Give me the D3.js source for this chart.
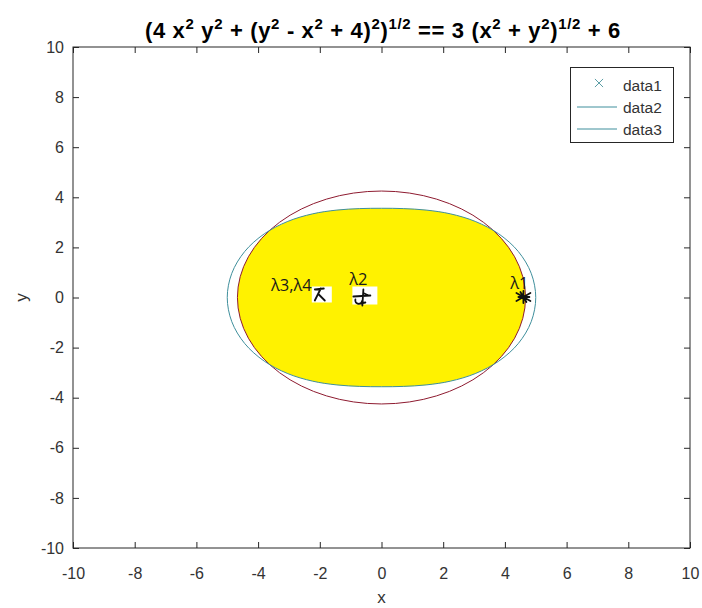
<!DOCTYPE html>
<html>
<head>
<meta charset="utf-8">
<script src="https://cdn.jsdelivr.net/npm/d3@7"></script>
<style>
  html, body { margin: 0; padding: 0; background: #ffffff; }
  svg { display: block; font-family: "Liberation Sans", Arial, sans-serif; }
</style>
</head>
<body>
<svg id="chart" width="702" height="608"></svg>
<script>
// Axis ranges and tick values
const xTicks = [-10, -8, -6, -4, -2, 0, 2, 4, 6, 8, 10];
const yTicks = [-10, -8, -6, -4, -2, 0, 2, 4, 6, 8, 10];

// Implicit curve |z^2 - 4| = 3|z| + 6, traced counter-clockwise
const curveX = [5.000, 4.853, 4.434, 3.801, 3.038, 2.232, 1.446, 0.706, 0.000,
                -0.706, -1.446, -2.232, -3.038, -3.801, -4.434, -4.853, -5.000,
                -4.853, -4.434, -3.801, -3.038, -2.232, -1.446, -0.706, 0.000,
                0.706, 1.446, 2.232, 3.038, 3.801, 4.434, 4.853];
const curveY = [0.000, 0.965, 1.837, 2.540, 3.038, 3.340, 3.490, 3.549, 3.562,
                3.549, 3.490, 3.340, 3.038, 2.540, 1.837, 0.965, 0.000,
                -0.965, -1.837, -2.540, -3.038, -3.340, -3.490, -3.549, -3.562,
                -3.549, -3.490, -3.340, -3.038, -2.540, -1.837, -0.965];

// Bounding ellipse: centre and semi-axes
const ellipseCenter = [0, 0];
const ellipseRadii = [4.67, 4.25];

// Eigenvalue markers
const eigLabels = ["λ1", "λ2", "λ3,λ4"];
const eigX = [4.60, -0.62, -2.00];
const eigY = [0.02, -0.04, 0.12];

const legendLabels = ["data1", "data2", "data3"];

const svg = d3.select("#chart");
const margin = { left: 73, right: 12, top: 47, bottom: 60 };
const W = 702, H = 608;
const x = d3.scaleLinear().domain([-10, 10]).range([margin.left, W - margin.right]);
const y = d3.scaleLinear().domain([-10, 10]).range([H - margin.bottom, margin.top]);

const tealLine = "#3f8f9c";
const redLine = "#8e1b30";
const axisColor = "#262626";
const fmt = d => String(d);

// Region inside both curves
const pts = curveX.map((v, i) => [v, curveY[i]]);
const line = d3.line().x(d => x(d[0])).y(d => y(d[1])).curve(d3.curveCatmullRomClosed);

const defs = svg.append("defs");
defs.append("clipPath").attr("id", "ellClip")
  .append("ellipse")
  .attr("cx", x(ellipseCenter[0])).attr("cy", y(ellipseCenter[1]))
  .attr("rx", x(ellipseRadii[0]) - x(0)).attr("ry", y(0) - y(ellipseRadii[1]));

svg.append("path")
  .attr("d", line(pts))
  .attr("fill", "#fff200")
  .attr("clip-path", "url(#ellClip)");

// Red ellipse
svg.append("ellipse")
  .attr("cx", x(ellipseCenter[0])).attr("cy", y(ellipseCenter[1]))
  .attr("rx", x(ellipseRadii[0]) - x(0)).attr("ry", y(0) - y(ellipseRadii[1]))
  .attr("fill", "none").attr("stroke", redLine).attr("stroke-width", 1);

// Teal implicit curve
svg.append("path")
  .attr("d", line(pts))
  .attr("fill", "none").attr("stroke", tealLine).attr("stroke-width", 1);

// White patches behind the inner eigenvalue marks: [w, h, dx, dy]
const patch = [null, [25, 18, 2.5, -3], [20, 16, 2, 0]];
eigX.forEach((ex, i) => {
  const p = patch[i];
  if (!p) return;
  const cx = x(ex) + p[2], cy = y(eigY[i]) + p[3];
  svg.append("rect")
    .attr("x", cx - p[0] / 2).attr("y", cy - p[1] / 2)
    .attr("width", p[0]).attr("height", p[1])
    .attr("fill", "#ffffff");
});

// Hand-drawn style glyphs for the eigenvalue marks
const glyphs = [
  "M-7,-4 L7,4 M-7,4 L7,-4 M0,-6 L0,6 M-5,0 L6,0 M-3,-5 L3,5",
  "M1,-9 L0,7 M-9,-2 L8,-3 M-7,1 C-8,6 -1,7 0,2 M-2,5 L3,4 M2,-5 L6,-3",
  "M-5,-5 L4,-6 M1,-6 L-5,6 M-1,0 L5,6"
];
eigX.forEach((ex, i) => {
  svg.append("path")
    .attr("transform", `translate(${x(ex)},${y(eigY[i])})`)
    .attr("d", glyphs[i])
    .attr("fill", "none").attr("stroke", "#111").attr("stroke-width", 1.8)
    .attr("stroke-linecap", "round");
});

// Labels: anchor point offsets from each mark
const labelPos = [
  { dx: -4, dy: -8, anchor: "middle" },
  { dx: -4, dy: -14, anchor: "middle" },
  { dx: -8, dy: -3, anchor: "end" }
];
eigLabels.forEach((t, i) => {
  svg.append("text")
    .attr("x", x(eigX[i]) + labelPos[i].dx)
    .attr("y", y(eigY[i]) + labelPos[i].dy)
    .attr("text-anchor", labelPos[i].anchor)
    .attr("font-family", "'Open Sans', 'DejaVu Sans', sans-serif")
    .attr("font-size", 16.5)
    .attr("fill", "#1a1a1a")
    .text(t);
});

// Frame
svg.append("rect")
  .attr("x", x(-10)).attr("y", y(10))
  .attr("width", x(10) - x(-10)).attr("height", y(-10) - y(10))
  .attr("fill", "none").attr("stroke", axisColor).attr("stroke-width", 1);

// Axes with inward ticks on all four sides
const tickLen = 6;
const gx = svg.append("g").attr("transform", `translate(0,${y(-10)})`)
  .call(d3.axisBottom(x).tickValues(xTicks).tickSize(-tickLen).tickPadding(20).tickFormat(fmt));
const gy = svg.append("g").attr("transform", `translate(${x(-10)},0)`)
  .call(d3.axisLeft(y).tickValues(yTicks).tickSize(-tickLen).tickPadding(9).tickFormat(fmt));
const gxt = svg.append("g").attr("transform", `translate(0,${y(10)})`)
  .call(d3.axisTop(x).tickValues(xTicks).tickSize(-tickLen).tickFormat(""));
const gyr = svg.append("g").attr("transform", `translate(${x(10)},0)`)
  .call(d3.axisRight(y).tickValues(yTicks).tickSize(-tickLen).tickFormat(""));
[gx, gy, gxt, gyr].forEach(g => {
  g.select(".domain").remove();
  g.selectAll("line").attr("stroke", axisColor);
  g.selectAll("text").attr("fill", "#333").attr("font-size", 16)
    .attr("font-family", "'Liberation Sans', Arial, sans-serif");
});
gx.selectAll("text").attr("dy", "0").attr("y", 31);

// Axis labels
svg.append("text").attr("x", x(0)).attr("y", 603).attr("text-anchor", "middle")
  .attr("font-size", 17).attr("fill", "#333").text("x");
svg.append("text").attr("transform", `translate(27,${y(0)}) rotate(-90)`)
  .attr("text-anchor", "middle").attr("font-size", 17).attr("fill", "#333").text("y");

// Title with superscripts
const title = svg.append("text").attr("x", 383).attr("y", 38)
  .attr("text-anchor", "middle").attr("font-weight", "bold").attr("font-size", 22).attr("fill", "#000");
const parts = [
  ["(4 x", 0], ["2", 1], [" y", 0], ["2", 1], [" + (y", 0], ["2", 1], [" - x", 0], ["2", 1],
  [" + 4)", 0], ["2", 1], [")", 0], ["1/2", 1], [" == 3 (x", 0], ["2", 1], [" + y", 0], ["2", 1],
  [")", 0], ["1/2", 1], [" + 6", 0]
];
parts.forEach(([t, sup], i) => {
  const ts = title.append("tspan").text(t);
  if (sup) ts.attr("font-size", 15).attr("dy", -9);
  else if (i > 0 && parts[i - 1][1]) ts.attr("dy", 9);
});
// Spread the title to its full span
const titleWidth = 476;
const w0 = title.node().getBBox().width;
const nChars = parts.reduce((s, p) => s + p[0].length, 0);
title.attr("letter-spacing", (titleWidth - w0) / nChars);

// Legend
const lg = svg.append("g");
lg.append("rect").attr("x", 570.5).attr("y", 67.5).attr("width", 103).attr("height", 75)
  .attr("fill", "#fff").attr("stroke", axisColor).attr("stroke-width", 1);
legendLabels.forEach((t, i) => {
  const cy = 85 + i * 22;
  if (i === 0) {
    lg.append("path").attr("transform", `translate(599,${cy - 2})`)
      .attr("d", d3.symbol().type(d3.symbolX).size(45)())
      .attr("fill", "none").attr("stroke", "#5c9ea6").attr("stroke-width", 1);
  } else {
    lg.append("line").attr("x1", 577).attr("x2", 617).attr("y1", cy).attr("y2", cy)
      .attr("stroke", tealLine).attr("stroke-width", 1);
  }
  lg.append("text").attr("x", 623).attr("y", cy + 5.5).attr("font-size", 15.5)
    .attr("fill", "#333").text(t);
});
</script>
</body>
</html>
